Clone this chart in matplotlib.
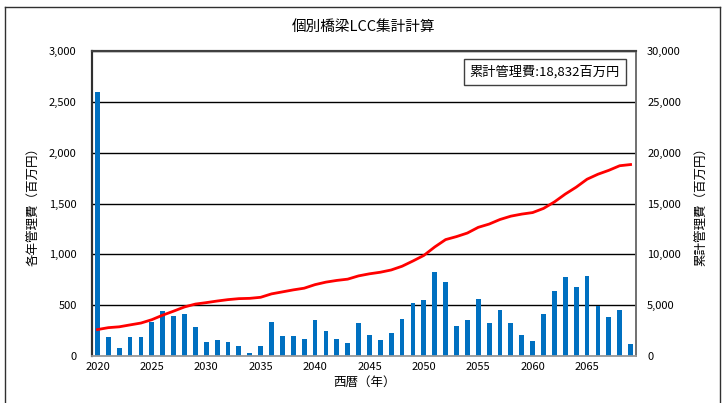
import numpy as np
import matplotlib
matplotlib.use("Agg")
import matplotlib.pyplot as plt
from matplotlib.lines import Line2D

plt.rcParams['font.family'] = ['Noto Sans CJK JP', 'DejaVu Sans']

# Data (百万円 per year, 2020-2069)
years = list(range(2020, 2070))
annual_cost = [
    2600, 188, 83, 188, 183, 331, 446, 393, 413, 282,
    142, 158, 138, 96, 30, 103, 336, 197, 197, 165,
    351, 246, 168, 125, 321, 204, 155, 223, 367, 517,
    547, 831, 725, 295, 351, 560, 321, 451, 328, 203,
    150, 409, 637, 774, 676, 784, 490, 385, 451, 118,
]
cumulative_cost = np.cumsum(annual_cost)

title = "個別橋梁LCC集計計算"
left_label = "各年管理費（百万円）"
right_label = "累計管理費（百万円）"
x_label = "西暦（年）"
total_text = "累計管理費:{:,}百万円".format(int(cumulative_cost[-1]))
xtick_years = [2020, 2025, 2030, 2035, 2040, 2045, 2050, 2055, 2060, 2065]
left_ticks = [0, 500, 1000, 1500, 2000, 2500, 3000]
right_ticks = [0, 5000, 10000, 15000, 20000, 25000, 30000]

fig = plt.figure(figsize=(7.26, 4.03), dpi=100)
ax = fig.add_axes([92 / 726, 1 - 356 / 403, 544 / 726, 305 / 403])
ax2 = ax.twinx()

# bars
ax.bar(years, annual_cost, width=0.44, color='#0070C0', zorder=3)
ax.set_xlim(2019.5, 2069.5)
ax.set_ylim(0, 3000)
ax.set_yticks(left_ticks)
ax.set_yticklabels(["{:,}".format(v) for v in left_ticks], fontsize=8)
ax.set_xticks(xtick_years)
ax.set_xticklabels([str(y) for y in xtick_years], fontsize=8)
ax.tick_params(axis='y', length=0, pad=11)
ax.tick_params(axis='x', length=0, pad=4)
ax.grid(axis='y', color='black', linewidth=1.0, zorder=0)
ax.set_axisbelow(True)
ax.set_ylabel(left_label, fontsize=9, labelpad=6)
ax.set_xlabel(x_label, fontsize=9, labelpad=3)

# cumulative line
ax2.plot(years, cumulative_cost, color='#FF0000', linewidth=2.0, zorder=4)
ax2.set_ylim(0, 30000)
ax2.set_yticks(right_ticks)
ax2.set_yticklabels(["{:,}".format(v) for v in right_ticks], fontsize=8)
ax2.tick_params(axis='y', length=0, pad=8)
ax2.set_ylabel(right_label, fontsize=9, labelpad=10)

for a in (ax, ax2):
    a.spines['top'].set_color('#404040')
    a.spines['top'].set_linewidth(1.5)
    a.spines['left'].set_color('#303030')
    a.spines['left'].set_linewidth(1.5)
    a.spines['right'].set_color('#707070')
    a.spines['right'].set_linewidth(1.2)
    a.spines['bottom'].set_color('#a0a0a0')
    a.spines['bottom'].set_linewidth(1.2)

# total box
ax2.text((620 - 92) / 544, (356 - 72) / 305, total_text, transform=ax2.transAxes,
         ha='right', va='center', fontsize=9.5, zorder=6,
         bbox=dict(boxstyle='square,pad=0.45', facecolor='white', edgecolor='#404040', linewidth=1.0))

# title
fig.text(0.5, 1 - 27 / 403, title, ha='center', va='center', fontsize=10.5)

# outer frame (open at bottom)
x0, x1, y_top = 5 / 726, 720 / 726, 1 - 7 / 403
fig.add_artist(Line2D([x0, x1], [y_top, y_top], color='#303030', linewidth=1.0))
fig.add_artist(Line2D([x0, x0], [0, y_top], color='#303030', linewidth=1.0))
fig.add_artist(Line2D([x1, x1], [0, y_top], color='#303030', linewidth=1.0))

fig.savefig("out.png", dpi=100)
